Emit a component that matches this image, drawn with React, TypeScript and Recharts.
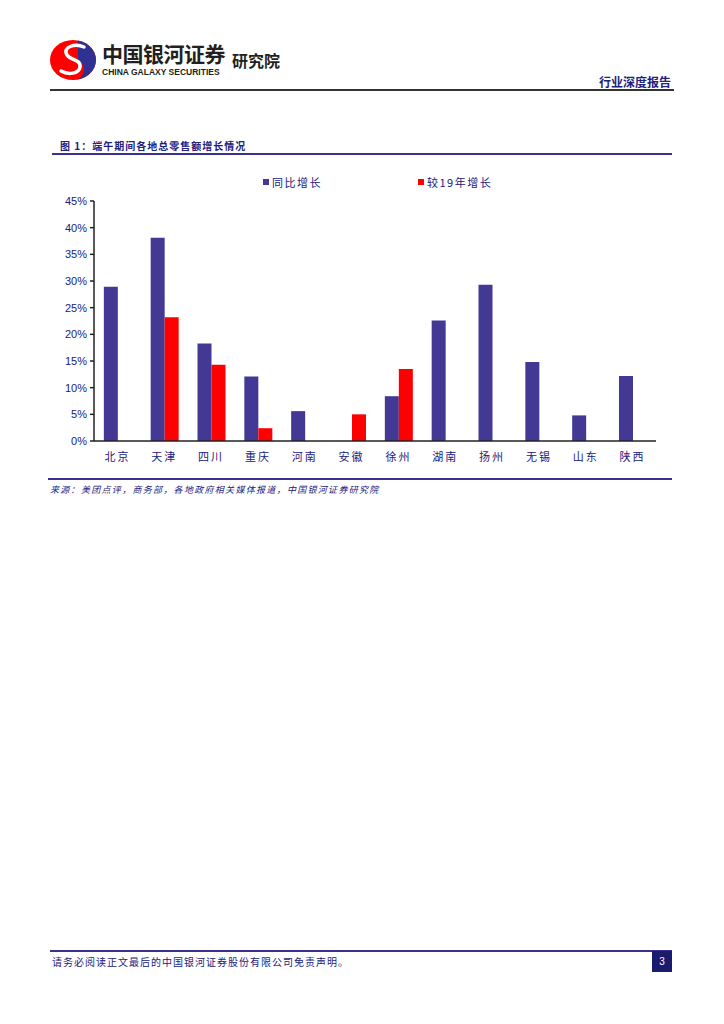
import React from "react";
import { BarChart, Bar, XAxis, YAxis, Legend } from "recharts";

const CATEGORIES = ["北京", "天津", "四川", "重庆", "河南", "安徽", "徐州", "湖南", "扬州", "无锡", "山东", "陕西"];
const YOY = [28.9, 38.1, 18.3, 12.1, 5.6, null, 8.4, 22.6, 29.3, 14.8, 4.8, 12.2];
const VS_2019 = [null, 23.2, 14.3, 2.4, null, 5.0, 13.5, null, null, null, null, null];
const Y_TICKS = [0, 5, 10, 15, 20, 25, 30, 35, 40, 45];
const SERIES_NAMES = ["同比增长", "较19年增长"];

const BLUE = "#433894";
const RED = "#ff0000";
const NAVY = "#202080";
const AXIS = "#222222";
const CJK = '"Noto Sans CJK SC", "Noto Sans", sans-serif';
const LATIN = '"Liberation Sans", Arial, sans-serif';

const data = CATEGORIES.map((name, i) => ({ name, i, yoy: YOY[i], vs19: VS_2019[i] }));
const EDGE_TICKS = [...CATEGORIES.map((_, i) => i), CATEGORIES.length];

function ChartLegend() {
  const items = [
    { label: SERIES_NAMES[0], color: BLUE, left: 209 },
    { label: SERIES_NAMES[1], color: RED, left: 364 },
  ];
  return (
    <div style={{ position: "relative", height: 30, width: 602 }}>
      {items.map((it) => (
        <div
          key={it.label}
          style={{ position: "absolute", left: it.left, top: 3, display: "flex", alignItems: "center", height: 16 }}
        >
          <span style={{ width: 6, height: 6, background: it.color, marginRight: 3 }} />
          <span style={{ fontFamily: CJK, fontSize: 11, color: NAVY, letterSpacing: 1.5 }}>{it.label}</span>
        </div>
      ))}
    </div>
  );
}

function Logo() {
  return (
    <svg width={50} height={44} style={{ position: "absolute", left: 48, top: 38 }}>
      <ellipse cx={25} cy={22} rx={23} ry={20} fill={RED} />
      <path d="M30 2.5 A23 20 0 0 1 30 41.5 A14 12 0 0 0 30 22 Z" fill="#2e3192" />
      <path
        d="M36 9 C27 5 14 9 19 17 C23 23 33 21 32 29 C31 36 20 37 13 33"
        stroke="#fff"
        strokeWidth={3.5}
        fill="none"
        strokeLinecap="round"
      />
    </svg>
  );
}

export default function App() {
  return (
    <div style={{ position: "relative", width: 724, height: 1024, margin: -8, background: "#fff", overflow: "hidden" }}>
      <Logo />
      <div style={{ position: "absolute", left: 102, top: 43, lineHeight: 1, fontFamily: CJK, fontWeight: 700, fontSize: 21, color: "#231f20", letterSpacing: -0.5 }}>
        中国银河证券
      </div>
      <div style={{ position: "absolute", left: 102, top: 68, lineHeight: 1, fontFamily: LATIN, fontWeight: 700, fontSize: 8.5, color: "#231f20" }}>
        CHINA GALAXY SECURITIES
      </div>
      <div style={{ position: "absolute", left: 232, top: 52, lineHeight: 1, fontFamily: CJK, fontWeight: 700, fontSize: 16, color: "#231f20" }}>
        研究院
      </div>
      <div style={{ position: "absolute", left: 599, top: 76, lineHeight: 1, fontFamily: CJK, fontWeight: 700, fontSize: 12, color: NAVY }}>
        行业深度报告
      </div>
      <div style={{ position: "absolute", left: 50, top: 89, width: 624, height: 2, background: "#333" }} />

      <div style={{ position: "absolute", left: 60, top: 138, fontFamily: CJK, fontWeight: 700, fontSize: 10, color: NAVY, letterSpacing: 1 }}>
        图 1：端午期间各地总零售额增长情况
      </div>
      <div style={{ position: "absolute", left: 52, top: 153, width: 620, height: 2, background: "#3a3090" }} />

      <div style={{ position: "absolute", left: 0, top: 165 }}>
        <BarChart
          width={724}
          height={305}
          data={data}
          margin={{ top: 6, right: 68, bottom: 5, left: 54 }}
          barCategoryGap="21%"
          barGap={0}
        >
          <Legend verticalAlign="top" height={30} content={() => <ChartLegend />} />
          <XAxis
            xAxisId="edge"
            type="number"
            dataKey="i"
            domain={[0, CATEGORIES.length]}
            ticks={EDGE_TICKS}
            tick={false}
            height={0}
            axisLine={false}
            tickLine={{ stroke: AXIS, strokeWidth: 1.5 }}
            tickSize={4}
            allowDataOverflow
          />
          <XAxis
            xAxisId="cat"
            dataKey="name"
            height={24}
            tickLine={false}
            axisLine={{ stroke: AXIS, strokeWidth: 1.5 }}
            tickMargin={6}
            interval={0}
            tick={{ fontFamily: CJK, fontSize: 11, fill: NAVY, letterSpacing: 2 }}
          />
          <YAxis
            domain={[0, 45]}
            ticks={Y_TICKS}
            width={40}
            tickSize={4}
            tickMargin={3}
            interval={0}
            axisLine={{ stroke: AXIS, strokeWidth: 1.5 }}
            tickLine={{ stroke: AXIS, strokeWidth: 1.5 }}
            tickFormatter={(v: number) => `${v}%`}
            tick={{ fontFamily: LATIN, fontSize: 11, fill: NAVY }}
          />
          <Bar xAxisId="cat" dataKey="yoy" name={SERIES_NAMES[0]} fill={BLUE} isAnimationActive={false} />
          <Bar xAxisId="cat" dataKey="vs19" name={SERIES_NAMES[1]} fill={RED} isAnimationActive={false} />
        </BarChart>
      </div>

      <div style={{ position: "absolute", left: 48, top: 478, width: 624, height: 1.5, background: "#3a3090" }} />
      <div style={{ position: "absolute", left: 50, top: 483, fontFamily: CJK, fontStyle: "italic", fontSize: 9, color: NAVY, letterSpacing: 1.3 }}>
        来源：美团点评，商务部，各地政府相关媒体报道，中国银河证券研究院
      </div>

      <div style={{ position: "absolute", left: 50, top: 950, width: 622, height: 2, background: "#3a3090" }} />
      <div style={{ position: "absolute", left: 52, top: 954, fontFamily: CJK, fontSize: 10, color: NAVY, letterSpacing: 1 }}>
        请务必阅读正文最后的中国银河证券股份有限公司免责声明。
      </div>
      <div
        style={{
          position: "absolute",
          left: 652,
          top: 951,
          width: 20,
          height: 21,
          background: "#1a1a6e",
          color: "#fff",
          fontFamily: LATIN,
          fontSize: 10,
          display: "flex",
          alignItems: "center",
          justifyContent: "center",
        }}
      >
        3
      </div>
    </div>
  );
}
